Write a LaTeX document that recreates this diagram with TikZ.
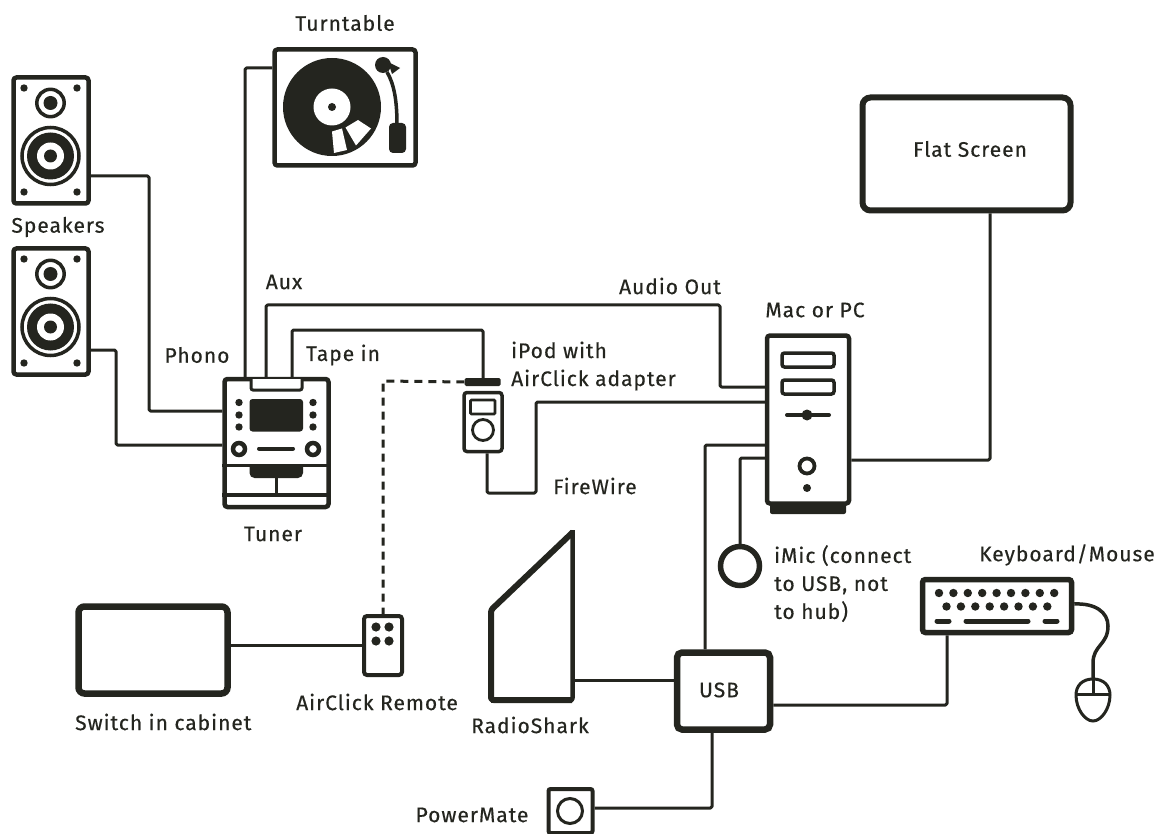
\documentclass[tikz,border=0pt]{standalone}
\usepackage{fontspec}
\setmainfont[LetterSpace=4.7,FakeBold=0.45]{Fira Sans}
\usetikzlibrary{calc}
\definecolor{ink}{HTML}{24251F}
\tikzset{
  devbox/.style={draw=ink,fill=white,rectangle,rounded corners=3pt,inner sep=0pt,line width=4.5pt},
  wire/.style={draw=ink,line width=3pt,line join=round,rounded corners=1.5pt},
  air/.style={draw=ink,line width=3pt,dash pattern=on 8pt off 6pt},
  solid ink/.style={fill=ink,draw=none},
  lab/.style={text=ink,font=\fontsize{21}{28}\selectfont,inner sep=0pt,align=left},
}
\newcommand{\speakerparts}[2]{%
  \begin{scope}[shift={(#1,#2)}]
    \foreach \sx/\sy in {24/12,77/12,24/116,77/116} \fill[ink] (\sx,\sy) circle (3.7);
    \draw[ink,line width=3.5pt] (50.5,27) circle (13.7);
    \fill[ink] (50.5,27) circle (7);
    \draw[ink,line width=3.5pt] (50.5,80) circle (28.5);
    \fill[ink] (50.5,80) circle (23.5);
    \fill[white] (50.5,80) circle (13.5);
    \fill[ink] (50.5,80) circle (6.5);
  \end{scope}}
\begin{document}
\begin{tikzpicture}[x=1pt,y=-1pt]
\useasboundingbox (0,0) rectangle (1159,834);

\node[devbox,minimum width=75pt,minimum height=126pt] (spkA) at (51,140.5) {};
\node[devbox,minimum width=75pt,minimum height=126pt] (spkB) at (51,311.5) {};
\speakerparts{0}{76}
\speakerparts{0}{247}
\node[devbox,minimum width=141pt,minimum height=116pt] (turn) at (345,107.5) {};
\node[devbox,minimum width=104pt,minimum height=128pt] (tuner) at (276.5,443) {};
\node[devbox,line width=3.5pt,minimum width=38pt,minimum height=59pt] (ipod) at (483,422) {};
\node[solid ink,rectangle,rounded corners=1.5pt,minimum width=36pt,minimum height=8pt,inner sep=0pt] (adapter) at (482.5,382) {};
\node[solid ink,rectangle,rounded corners=2pt,minimum width=76pt,minimum height=14pt,inner sep=0pt] (macbase) at (808,507) {};
\node[devbox,minimum width=82pt,minimum height=168pt] (mac) at (808,419.5) {};
\node[devbox,line width=6pt,rounded corners=8pt,minimum width=208pt,minimum height=113pt] (flat) at (966.5,154) {};
\node[devbox,line width=5.5pt,minimum width=149pt,minimum height=53pt] (kbd) at (997,606) {};
\node[devbox,line width=6.5pt,rounded corners=6pt,minimum width=149pt,minimum height=87pt] (switch) at (153,650) {};
\node[devbox,line width=4pt,rounded corners=3pt,minimum width=38pt,minimum height=59pt] (remote) at (383,645.5) {};
\node[devbox,line width=6.5pt,rounded corners=5pt,minimum width=93pt,minimum height=77pt] (usb) at (723.5,691) {};
\node[devbox,line width=4pt,rounded corners=2pt,minimum width=44pt,minimum height=44pt] (pm) at (570.5,811) {};
\node[draw=ink,line width=5.5pt,circle,minimum size=39pt,inner sep=0pt] (imic) at (740,566) {};
\coordinate (mtop) at (1093,679);
\coordinate (sharkport) at (574,680);

% connectors
\draw[wire] (spkA.east|-0,176) -- (149,176) -- (149,411) -- (tuner.west|-0,411);
\draw[wire] (spkB.east|-0,350) -- (116,350) -- (116,445) -- (tuner.west|-0,445);
\draw[wire] (turn.west|-0,68) -- (245,68) -- (tuner.north-|245,0);
\draw[wire] (tuner.north-|266,0) -- (266,305) -- (720,305) -- (720,387) -- (mac.west|-0,387);
\draw[wire] (tuner.north-|292,0) -- (292,330) -- (483,330) -- (adapter.north-|483,0);
\draw[air] (adapter.west) -- (383,381) -- (remote.north-|383,0);
\draw[wire] (ipod.south-|487,0) -- (487,493) -- (536,493) -- (536,402) -- (mac.west|-0,402);
\draw[wire] (mac.west|-0,445) -- (705,445) -- (usb.north-|705,0);
\draw[wire] (mac.west|-0,458) -- (740,458) -- (imic.north);
\draw[wire] (mac.east|-0,460) -- (990,460) -- (flat.south-|990,0);
\draw[wire] (switch.east|-0,645) -- (remote.west|-0,645);
\draw[wire] (sharkport) -- (usb.west|-0,680);
\draw[wire] (usb.east|-0,705) -- (947,705) -- (kbd.south-|947,0);
\draw[wire] (pm.east|-0,808) -- (712,808) -- (usb.south-|712,0);
\draw[ink,line width=3.5pt] (kbd.east|-0,604) .. controls (1095,603) and (1108,612) .. (1108,626) .. controls (1108,645) and (1093,645) .. (1093,663) -- (mtop);

% Turntable
\fill[ink] (332,107) circle (49);
\fill[white] (332,107) circle (18.5);
\fill[ink] (332,107) circle (4);
\fill[white] (332,131.5) -- (342,128.5) -- (347,150) -- (334,153) -- cycle;
\fill[white] (345.5,127.5) -- (358,120) -- (371,128.5) -- (356,145.5) -- cycle;
\fill[ink] (383,65) circle (8);
\fill[ink] (388,62) -- (400,68) -- (392,74) -- cycle;
\draw[ink,line width=3.5pt] (387,72) .. controls (394,84) and (397,100) .. (397,125);
\fill[ink,rounded corners=4pt] (389,123) rectangle (406,153);

% Tuner details
\draw[ink,line width=3pt,rounded corners=2pt,fill=white] (251,379) -- (251,390) -- (302,390) -- (302,379);
\fill[ink,rounded corners=3pt] (249.5,399) rectangle (303,431.5);
\foreach \dy in {402.5,415,427} {\fill[ink] (239,\dy) circle (3.7); \fill[ink] (313,\dy) circle (3.7);}
\foreach \kx in {239,313} \draw[ink,line width=4.5pt] (\kx,449) circle (6);
\draw[ink,line width=4pt,line cap=round] (259,448.5) -- (293,448.5);
\fill[ink,rounded corners=5pt] (249.5,460) -- (249.5,478) -- (303,478) -- (303,460) -- cycle;
\fill[white] (249,459) rectangle (304,463.5);
\draw[ink,line width=3pt] (tuner.west|-0,465) -- (tuner.east|-0,465);
\draw[ink,line width=3pt] (276,476) -- (276,495);
\draw[ink,line width=4.5pt] (tuner.west|-0,495) -- (tuner.east|-0,495);

% iPod
\draw[ink,line width=2.6pt,rounded corners=1pt] (470.5,400) rectangle (495,414);
\draw[ink,line width=2.8pt] (483,430) circle (10.5);

% Mac
\draw[ink,line width=3.5pt,rounded corners=2.5pt] (782,353) rectangle (834,367);
\draw[ink,line width=3.5pt,rounded corners=2.5pt] (782,380) rectangle (834,394);
\draw[ink,line width=4pt,line cap=round] (787,415) -- (829,415);
\fill[ink] (807,415) circle (5.5);
\draw[ink,line width=3.8pt] (807,466) circle (7.5);
\fill[ink] (807,488) circle (4);

% RadioShark
\draw[ink,line width=6pt,line join=round,rounded corners=2.5pt] (573,532) -- (491,610) -- (491,700) -- (572,700);
\draw[ink,line width=4.5pt,line join=round,rounded corners=2.5pt] (491,700.7) -- (572.5,700.7) -- (572.5,530);

% Keyboard
\foreach \i in {0,...,8} \fill[ink] (939+14.4*\i,593) circle (4.2);
\foreach \i in {0,...,7} \fill[ink] (946.5+14.4*\i,606.5) circle (4.2);
\draw[ink,line width=5pt,line cap=round] (937,621) -- (949,621);
\draw[ink,line width=5pt,line cap=round] (966,621) -- (1028,621);
\draw[ink,line width=5pt,line cap=round] (1045,621) -- (1057,621);

% Mouse
\draw[ink,line width=3pt] (1093,679) .. controls (1104,679) and (1110,686) .. (1110,695) .. controls (1110,709) and (1101,721) .. (1093,721) .. controls (1085,721) and (1076,709) .. (1076,695) .. controls (1076,686) and (1082,679) .. (1093,679) -- cycle;
\draw[ink,line width=3pt] (1077,694) -- (1109,694);
\draw[ink,line width=3pt] (1093,679) -- (1093,694);

% Remote dots
\foreach \rx/\ry in {376/627,389/627,376/641,389/641} \fill[ink] (\rx,\ry) circle (4.6);

% PowerMate knob
\draw[ink,line width=3pt] (570,811) circle (12.5);

% Labels
\node[lab] (tTurn) at (345,23) {Turntable};
\node[lab] (tSpk) at (58,227) {Speakers};
\node[lab] (tAux) at (284,282) {Aux};
\node[lab] (tPhono) at (197,355) {Phono};
\node[lab] (tTape) at (343,355) {Tape in};
\node[lab,anchor=base west] (tIpod) at (511,386) {iPod with\\AirClick adapter};
\node[lab] (tAudio) at (670,286) {Audio Out};
\node[lab] (tMac) at (815,310) {Mac or PC};
\node[lab] (tFlat) at (970,149) {Flat Screen};
\node[lab,anchor=west] (tFW) at (553,486) {FireWire};
\node[lab] (tTuner) at (273,534) {Tuner};
\node[lab,anchor=north west] (tImic) at (774,545) {iMic (connect\\to USB, not\\to hub)};
\node[lab,anchor=west] (tKbd) at (979,555) {Keyboard/Mouse};
\node[lab,anchor=west] (tSwitch) at (75,722) {Switch in cabinet};
\node[lab,anchor=west] (tRemote) at (296,702) {AirClick Remote};
\node[lab] (tShark) at (530,725) {RadioShark};
\node[lab] (tUsb) at (719,690) {USB};
\node[lab] (tPM) at (472,815) {PowerMate};
\end{tikzpicture}
\end{document}
